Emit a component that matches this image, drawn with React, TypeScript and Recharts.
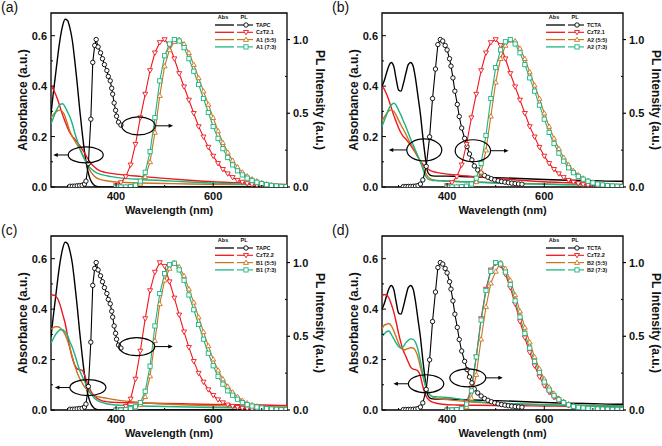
import React from "react";
import { ComposedChart, Line, XAxis, YAxis, ReferenceArea, ReferenceDot } from "recharts";

// wavelength grids (nm)
const ABS_WL = [266, 270, 275, 280, 285, 290, 295, 300, 305, 310, 315, 320, 325, 330, 335, 340, 345, 350, 355, 360, 365, 370, 380, 390, 400, 420, 450, 500, 550, 600, 650, 700, 750, 762];
const PL_WL = [400, 410, 420, 430, 440, 450, 460, 470, 480, 490, 500, 510, 520, 530, 540, 550, 560, 570, 580, 590, 600, 610, 620, 630, 640, 650, 660, 670, 680, 690, 700, 710, 720, 730, 740, 750, 760];

// absorbance (a.u.)
const TAPC_ABS = [0.29, 0.36, 0.44, 0.52, 0.59, 0.64, 0.665, 0.66, 0.63, 0.58, 0.5, 0.41, 0.31, 0.22, 0.14, 0.08, 0.04, 0.018, 0.007, 0.002, 0, 0, 0, 0, 0, 0, 0, 0, 0, 0, 0, 0, 0, 0];
const TCTA_ABS = [0.4, 0.418, 0.45, 0.48, 0.494, 0.48, 0.43, 0.385, 0.38, 0.41, 0.45, 0.485, 0.494, 0.48, 0.43, 0.36, 0.29, 0.2, 0.12, 0.06, 0.047, 0.044, 0.043, 0.043, 0.043, 0.042, 0.04, 0.037, 0.034, 0.03, 0.027, 0.025, 0.023, 0.023];
const CZT21_ABS = [0.4, 0.39, 0.37, 0.345, 0.315, 0.285, 0.26, 0.235, 0.215, 0.2, 0.19, 0.178, 0.165, 0.15, 0.135, 0.118, 0.103, 0.09, 0.08, 0.072, 0.066, 0.062, 0.057, 0.054, 0.051, 0.047, 0.042, 0.034, 0.027, 0.021, 0.017, 0.013, 0.01, 0.01];
const A1_55_ABS = [0.275, 0.285, 0.295, 0.303, 0.305, 0.298, 0.28, 0.25, 0.22, 0.2, 0.183, 0.167, 0.152, 0.133, 0.112, 0.09, 0.07, 0.055, 0.044, 0.036, 0.031, 0.028, 0.025, 0.022, 0.02, 0.018, 0.016, 0.014, 0.012, 0.011, 0.01, 0.009, 0.008, 0.008];
const A1_73_ABS = [0.25, 0.27, 0.295, 0.315, 0.328, 0.33, 0.318, 0.298, 0.278, 0.25, 0.214, 0.185, 0.155, 0.13, 0.11, 0.095, 0.08, 0.07, 0.062, 0.056, 0.052, 0.049, 0.045, 0.041, 0.038, 0.034, 0.03, 0.025, 0.02, 0.016, 0.012, 0.009, 0.007, 0.007];
const A2_55_ABS = [0.26, 0.275, 0.29, 0.302, 0.306, 0.3, 0.285, 0.265, 0.246, 0.228, 0.21, 0.19, 0.172, 0.155, 0.138, 0.12, 0.1, 0.08, 0.058, 0.042, 0.033, 0.029, 0.026, 0.025, 0.024, 0.022, 0.02, 0.017, 0.014, 0.012, 0.01, 0.009, 0.008, 0.008];
const A2_73_ABS = [0.24, 0.26, 0.285, 0.31, 0.325, 0.332, 0.325, 0.305, 0.285, 0.262, 0.24, 0.215, 0.19, 0.168, 0.145, 0.122, 0.1, 0.072, 0.046, 0.033, 0.028, 0.026, 0.025, 0.024, 0.023, 0.022, 0.02, 0.016, 0.013, 0.011, 0.009, 0.008, 0.007, 0.007];
const CZT22_ABS_C = [0.456, 0.456, 0.452, 0.44, 0.415, 0.38, 0.345, 0.295, 0.245, 0.205, 0.178, 0.163, 0.16, 0.158, 0.14, 0.112, 0.088, 0.068, 0.056, 0.048, 0.042, 0.037, 0.033, 0.031, 0.03, 0.029, 0.028, 0.026, 0.024, 0.022, 0.021, 0.02, 0.018, 0.018];
const CZT22_ABS_D = [0.45, 0.458, 0.456, 0.445, 0.42, 0.39, 0.35, 0.305, 0.266, 0.235, 0.213, 0.19, 0.17, 0.162, 0.16, 0.155, 0.134, 0.094, 0.062, 0.045, 0.036, 0.031, 0.026, 0.023, 0.021, 0.02, 0.019, 0.018, 0.017, 0.016, 0.015, 0.014, 0.013, 0.013];
const B1_55_ABS = [0.32, 0.326, 0.33, 0.33, 0.325, 0.315, 0.3, 0.275, 0.246, 0.21, 0.176, 0.148, 0.125, 0.108, 0.092, 0.08, 0.07, 0.063, 0.058, 0.054, 0.052, 0.05, 0.047, 0.043, 0.04, 0.035, 0.03, 0.024, 0.02, 0.017, 0.015, 0.013, 0.012, 0.012];
const B1_73_ABS = [0.265, 0.28, 0.298, 0.31, 0.318, 0.318, 0.31, 0.295, 0.27, 0.248, 0.22, 0.188, 0.158, 0.135, 0.115, 0.092, 0.075, 0.06, 0.048, 0.04, 0.034, 0.03, 0.025, 0.022, 0.02, 0.018, 0.016, 0.014, 0.012, 0.01, 0.009, 0.008, 0.007, 0.007];
const B2_55_ABS = [0.32, 0.335, 0.34, 0.343, 0.335, 0.315, 0.29, 0.265, 0.246, 0.238, 0.24, 0.244, 0.247, 0.246, 0.235, 0.21, 0.17, 0.134, 0.1, 0.075, 0.06, 0.052, 0.046, 0.043, 0.041, 0.037, 0.032, 0.027, 0.024, 0.021, 0.019, 0.018, 0.017, 0.017];
const B2_73_ABS = [0.29, 0.3, 0.31, 0.313, 0.3, 0.283, 0.266, 0.252, 0.246, 0.252, 0.266, 0.276, 0.282, 0.28, 0.268, 0.24, 0.195, 0.145, 0.1, 0.074, 0.06, 0.054, 0.052, 0.051, 0.05, 0.045, 0.035, 0.028, 0.024, 0.021, 0.019, 0.017, 0.016, 0.016];

// donor PL (normalised)
const TAPC_PL_WL = [305, 310, 315, 320, 325, 330, 335, 338, 343, 348, 352, 356, 359, 363, 368, 372, 376, 381, 384, 388, 391, 393, 396, 399, 401, 405, 410];
const TAPC_PL = [0.005, 0.005, 0.006, 0.008, 0.01, 0.012, 0.02, 0.04, 0.16, 0.46, 0.845, 0.96, 1.0, 0.95, 0.91, 0.87, 0.83, 0.79, 0.75, 0.72, 0.67, 0.63, 0.57, 0.52, 0.48, 0.44, 0.42];
const TCTA_PL_WL = [310, 315, 320, 325, 330, 335, 340, 345, 350, 357, 364, 370, 376, 381, 386, 391, 396, 400, 405, 408, 412, 416, 421, 425, 430, 436, 441, 446, 451, 456, 463, 470, 477, 484, 491, 498, 505, 512, 519, 526, 533, 540, 547, 554];
const TCTA_PL = [0.003, 0.003, 0.004, 0.004, 0.005, 0.006, 0.01, 0.02, 0.048, 0.14, 0.34, 0.6, 0.8, 0.966, 1.0, 0.99, 0.96, 0.93, 0.87, 0.82, 0.74, 0.65, 0.56, 0.478, 0.4, 0.33, 0.274, 0.224, 0.184, 0.143, 0.116, 0.095, 0.078, 0.066, 0.056, 0.048, 0.042, 0.037, 0.033, 0.029, 0.026, 0.023, 0.021, 0.019];

// acceptor / blend PL (normalised), on PL_WL
const CZT21_PL = [0.01, 0.03, 0.07, 0.15, 0.29, 0.47, 0.63, 0.79, 0.91, 0.98, 1.0, 0.96, 0.87, 0.77, 0.68, 0.59, 0.5, 0.41, 0.34, 0.27, 0.21, 0.16, 0.12, 0.09, 0.065, 0.046, 0.033, 0.024, 0.017, 0.012, 0.008, 0.005, 0.003, 0.002, 0.001, 0.001, 0];
const A1_55_PL = [0, 0, 0, 0.002, 0.008, 0.025, 0.07, 0.17, 0.37, 0.62, 0.82, 0.93, 0.985, 1.0, 0.97, 0.91, 0.83, 0.74, 0.65, 0.56, 0.47, 0.38, 0.3, 0.235, 0.18, 0.135, 0.1, 0.074, 0.054, 0.04, 0.029, 0.02, 0.014, 0.009, 0.006, 0.003, 0.002];
const A1_73_PL = [0, 0, 0, 0.003, 0.012, 0.04, 0.1, 0.24, 0.47, 0.72, 0.89, 0.97, 1.0, 0.99, 0.945, 0.87, 0.785, 0.695, 0.6, 0.505, 0.41, 0.33, 0.26, 0.2, 0.15, 0.11, 0.082, 0.06, 0.044, 0.032, 0.023, 0.016, 0.011, 0.007, 0.004, 0.002, 0.001];
const A2_55_PL = [0, 0, 0, 0.001, 0.004, 0.012, 0.035, 0.1, 0.25, 0.48, 0.71, 0.87, 0.96, 0.995, 0.99, 0.94, 0.87, 0.78, 0.69, 0.6, 0.5, 0.41, 0.33, 0.26, 0.2, 0.15, 0.11, 0.082, 0.06, 0.044, 0.032, 0.023, 0.016, 0.011, 0.008, 0.005, 0.004];
const A2_73_PL = [0, 0, 0, 0.002, 0.006, 0.02, 0.06, 0.16, 0.35, 0.6, 0.81, 0.93, 0.985, 1.0, 0.97, 0.91, 0.83, 0.74, 0.65, 0.555, 0.46, 0.37, 0.295, 0.23, 0.175, 0.13, 0.097, 0.072, 0.053, 0.039, 0.028, 0.02, 0.014, 0.01, 0.007, 0.005, 0.003];
const CZT22_PL_C = [0, 0.005, 0.025, 0.075, 0.21, 0.4, 0.62, 0.81, 0.935, 1.0, 0.975, 0.87, 0.76, 0.645, 0.53, 0.425, 0.33, 0.25, 0.19, 0.138, 0.1, 0.07, 0.05, 0.035, 0.026, 0.018, 0.013, 0.009, 0.006, 0.004, 0.003, 0.002, 0.001, 0.001, 0, 0, 0];
const B1_55_PL = [0, 0, 0.001, 0.005, 0.015, 0.035, 0.09, 0.23, 0.47, 0.72, 0.88, 0.96, 1.0, 0.97, 0.91, 0.82, 0.73, 0.63, 0.53, 0.435, 0.345, 0.27, 0.21, 0.16, 0.12, 0.09, 0.065, 0.047, 0.035, 0.026, 0.019, 0.013, 0.009, 0.006, 0.004, 0.003, 0.002];
const B1_73_PL = [0, 0, 0.002, 0.008, 0.022, 0.05, 0.127, 0.297, 0.57, 0.79, 0.925, 0.985, 0.995, 0.95, 0.88, 0.78, 0.68, 0.58, 0.48, 0.385, 0.3, 0.228, 0.175, 0.13, 0.1, 0.073, 0.05, 0.036, 0.027, 0.02, 0.014, 0.009, 0.007, 0.005, 0.003, 0.002, 0.001];
const CZT22_PL_D = [0, 0.001, 0.005, 0.015, 0.05, 0.15, 0.36, 0.62, 0.82, 0.95, 0.995, 0.98, 0.92, 0.83, 0.72, 0.6, 0.49, 0.39, 0.3, 0.225, 0.165, 0.12, 0.085, 0.06, 0.042, 0.03, 0.022, 0.016, 0.012, 0.009, 0.007, 0.005, 0.004, 0.003, 0.002, 0.002, 0.001];
const B2_55_PL = [0, 0, 0.001, 0.005, 0.02, 0.08, 0.24, 0.48, 0.7, 0.86, 0.94, 1.0, 0.96, 0.88, 0.78, 0.67, 0.56, 0.46, 0.36, 0.28, 0.21, 0.155, 0.112, 0.08, 0.058, 0.042, 0.03, 0.022, 0.016, 0.012, 0.009, 0.007, 0.005, 0.004, 0.003, 0.003, 0.002];
const B2_73_PL = [0, 0, 0.002, 0.008, 0.04, 0.13, 0.36, 0.61, 0.81, 0.94, 1.0, 0.99, 0.935, 0.85, 0.74, 0.63, 0.52, 0.42, 0.33, 0.255, 0.19, 0.135, 0.097, 0.07, 0.05, 0.035, 0.024, 0.018, 0.014, 0.011, 0.009, 0.007, 0.006, 0.005, 0.004, 0.004, 0.003];

const X_TICKS = [300, 400, 500, 600, 700];
const ABS_TICKS = [0, 0.1, 0.2, 0.3, 0.4, 0.5, 0.6];
const PL_TICKS = [0, 0.25, 0.5, 0.75, 1.0];

const COLORS = ["#000000", "#f0161c", "#c8741e", "#1cb482"];
const MARKERS = ["circle", "down", "up", "square"];
const FONT = "Arial, 'Liberation Sans', Helvetica, sans-serif";
const X_MIN = 266;
const ABS_MAX = 0.69;
const PL_MAX = 1.18;

const pts = (xs: number[], ys: number[]) => xs.map((x, i) => ({ x, y: ys[i] }));

const PANELS = [
  {
    letter: "(a)", left: 0, top: 0, xMax: 752, rightW: 44,
    names: ["TAPC", "CzT2.1", "A1 (5:5)", "A1 (7:3)"],
    abs: [TAPC_ABS, CZT21_ABS, A1_55_ABS, A1_73_ABS],
    donorPl: [TAPC_PL_WL, TAPC_PL],
    pl: [CZT21_PL, A1_55_PL, A1_73_PL],
    loops: [
      { axis: "abs", x: 337.5, y: 0.127, rx: 17.5, ry: 8, dir: -1, len: 15 },
      { axis: "pl", x: 446, y: 0.415, rx: 16.7, ry: 9, dir: 1, len: 18 },
    ],
  },
  {
    letter: "(b)", left: 331, top: 0, xMax: 762, rightW: 39,
    names: ["TCTA", "CzT2.1", "A2 (5:5)", "A2 (7:3)"],
    abs: [TCTA_ABS, CZT21_ABS, A2_55_ABS, A2_73_ABS],
    donorPl: [TCTA_PL_WL, TCTA_PL],
    pl: [CZT21_PL, A2_55_PL, A2_73_PL],
    loops: [
      { axis: "abs", x: 353, y: 0.147, rx: 17.5, ry: 11, dir: -1, len: 18 },
      { axis: "pl", x: 453, y: 0.246, rx: 17.7, ry: 11, dir: 1, len: 18 },
    ],
  },
  {
    letter: "(c)", left: 0, top: 223, xMax: 752, rightW: 44,
    names: ["TAPC", "CzT2.2", "B1 (5:5)", "B1 (7:3)"],
    abs: [TAPC_ABS, CZT22_ABS_C, B1_55_ABS, B1_73_ABS],
    donorPl: [TAPC_PL_WL, TAPC_PL],
    pl: [CZT22_PL_C, B1_55_PL, B1_73_PL],
    loops: [
      { axis: "abs", x: 342, y: 0.089, rx: 18, ry: 8, dir: -1, len: 15 },
      { axis: "pl", x: 442.6, y: 0.43, rx: 18, ry: 9, dir: 1, len: 18 },
    ],
  },
  {
    letter: "(d)", left: 331, top: 223, xMax: 762, rightW: 39,
    names: ["TCTA", "CzT2.2", "B2 (5:5)", "B2 (7:3)"],
    abs: [TCTA_ABS, CZT22_ABS_D, B2_55_ABS, B2_73_ABS],
    donorPl: [TCTA_PL_WL, TCTA_PL],
    pl: [CZT22_PL_D, B2_55_PL, B2_73_PL],
    loops: [
      { axis: "abs", x: 356.7, y: 0.104, rx: 17.7, ry: 9, dir: -1, len: 15 },
      { axis: "pl", x: 442.6, y: 0.218, rx: 18, ry: 9, dir: 1, len: 17 },
    ],
  },
];

function Marker({ cx, cy, kind, color }: any) {
  if (cx == null || cy == null || isNaN(cx) || isNaN(cy)) return null;
  const common = { fill: "#ffffff", stroke: color, strokeWidth: 0.9 };
  if (kind === "circle") return <circle cx={cx} cy={cy} r={2.2} {...common} />;
  if (kind === "down")
    return <polygon points={`${cx - 2.5},${cy - 1.8} ${cx + 2.5},${cy - 1.8} ${cx},${cy + 2.5}`} {...common} />;
  if (kind === "up")
    return <polygon points={`${cx - 2.5},${cy + 1.8} ${cx + 2.5},${cy + 1.8} ${cx},${cy - 2.5}`} {...common} />;
  return <rect x={cx - 2.1} y={cy - 2.1} width={4.2} height={4.2} {...common} />;
}

function Loop({ cx, cy, rx, ry, dir, len }: any) {
  if (cx == null || cy == null) return null;
  const x0 = dir < 0 ? cx - rx : cx + rx;
  const x1 = x0 + dir * len;
  return (
    <g>
      <ellipse cx={cx} cy={cy} rx={rx} ry={ry} fill="none" stroke="#000" strokeWidth={1.2} />
      <line x1={x0} y1={cy} x2={x1 - dir * 3} y2={cy} stroke="#000" strokeWidth={1} />
      <polygon points={`${x1},${cy} ${x1 - dir * 4.5},${cy - 2} ${x1 - dir * 4.5},${cy + 2}`} fill="#000" />
    </g>
  );
}

const tickText = { fontFamily: FONT, fontWeight: 700, fontSize: 11, fill: "#111" };

function XTick({ x, y, payload }: any) {
  const major = payload.value === 400 || payload.value === 600;
  return (
    <g>
      <line x1={x} x2={x} y1={y} y2={y - (major ? 4 : 2)} stroke="#000" strokeWidth={1} />
      {major && (
        <text x={x} y={y + 13} textAnchor="middle" {...tickText}>
          {payload.value}
        </text>
      )}
    </g>
  );
}

function AbsTick({ x, y, payload }: any) {
  const v = payload.value;
  const major = Math.abs(v * 10) % 2 < 0.01;
  return (
    <g>
      <line x1={x} x2={x + (major ? 4 : 2)} y1={y} y2={y} stroke="#000" strokeWidth={1} />
      {major && (
        <text x={x - 4} y={y} dy="0.36em" textAnchor="end" {...tickText}>
          {v.toFixed(1)}
        </text>
      )}
    </g>
  );
}

function PlTick({ x, y, payload }: any) {
  const v = payload.value;
  const major = v === 0 || v === 0.5 || v === 1;
  return (
    <g>
      {major ? (
        <line x1={x} x2={x + 3} y1={y} y2={y} stroke="#000" strokeWidth={1.2} />
      ) : (
        <line x1={x} x2={x - 2} y1={y} y2={y} stroke="#000" strokeWidth={1} />
      )}
      {major && (
        <text x={x + 6} y={y} dy="0.36em" textAnchor="start" {...tickText}>
          {v.toFixed(1)}
        </text>
      )}
    </g>
  );
}

function Panel({ p }: any) {
  const plotLeft = 51;
  const plotRight = 331 - p.rightW;
  const plotTop = 13;
  const plotBottom = 187;
  const legendRows = [25, 32.3, 39.6, 46.9];
  return (
    <div style={{ position: "absolute", left: p.left, top: p.top, width: 331, height: 223 }}>
      <ComposedChart width={331} height={223} margin={{ top: plotTop, right: 0, bottom: 0, left: 0 }}>
        <XAxis
          type="number"
          dataKey="x"
          domain={[X_MIN, p.xMax]}
          allowDataOverflow
          ticks={X_TICKS}
          interval={0}
          tickSize={0}
          tickMargin={0}
          axisLine={false}
          tickLine={false}
          height={36}
          tick={(t: any) => <XTick {...t} />}
        />
        <YAxis
          yAxisId="abs"
          type="number"
          domain={[0, ABS_MAX]}
          allowDataOverflow
          ticks={ABS_TICKS}
          interval={0}
          tickSize={0}
          tickMargin={0}
          axisLine={false}
          tickLine={false}
          width={plotLeft}
          tick={(t: any) => <AbsTick {...t} />}
        />
        <YAxis
          yAxisId="pl"
          orientation="right"
          type="number"
          domain={[0, PL_MAX]}
          allowDataOverflow
          ticks={PL_TICKS}
          interval={0}
          tickSize={0}
          tickMargin={0}
          axisLine={false}
          tickLine={false}
          width={p.rightW}
          tick={(t: any) => <PlTick {...t} />}
        />
        {p.abs.map((ys: number[], i: number) => (
          <Line
            key={`abs-${i}`}
            yAxisId="abs"
            data={pts(ABS_WL, ys)}
            dataKey="y"
            type="monotone"
            stroke={COLORS[i]}
            strokeWidth={1.4}
            dot={false}
            activeDot={false}
            isAnimationActive={false}
          />
        ))}
        <Line
          yAxisId="pl"
          data={pts(p.donorPl[0], p.donorPl[1])}
          dataKey="y"
          type="linear"
          stroke={COLORS[0]}
          strokeWidth={1.1}
          dot={(d: any) => <Marker key={`dm-${d.index}`} cx={d.cx} cy={d.cy} kind={MARKERS[0]} color={COLORS[0]} />}
          activeDot={false}
          isAnimationActive={false}
        />
        {p.pl.map((ys: number[], i: number) => (
          <Line
            key={`pl-${i}`}
            yAxisId="pl"
            data={pts(PL_WL, ys)}
            dataKey="y"
            type="linear"
            stroke={COLORS[i + 1]}
            strokeWidth={1.1}
            dot={(d: any) => (
              <Marker key={`m${i}-${d.index}`} cx={d.cx} cy={d.cy} kind={MARKERS[i + 1]} color={COLORS[i + 1]} />
            )}
            activeDot={false}
            isAnimationActive={false}
          />
        ))}
        <ReferenceArea
          yAxisId="abs"
          x1={X_MIN}
          x2={p.xMax}
          y1={0}
          y2={ABS_MAX}
          fill="none"
          fillOpacity={0}
          stroke="#000"
          strokeWidth={1.3}
          ifOverflow="visible"
        />
        {p.loops.map((l: any, i: number) => (
          <ReferenceDot
            key={`loop-${i}`}
            yAxisId={l.axis}
            x={l.x}
            y={l.y}
            ifOverflow="visible"
            shape={(s: any) => <Loop cx={s.cx} cy={s.cy} rx={l.rx} ry={l.ry} dir={l.dir} len={l.len} />}
          />
        ))}
      </ComposedChart>
      <svg
        width={331}
        height={223}
        style={{ position: "absolute", left: 0, top: 0, pointerEvents: "none" }}
      >
        <text x={1} y={12} fontFamily={FONT} fontSize={14} fill="#111">
          {p.letter}
        </text>
        <text
          transform={`translate(23, ${(plotTop + plotBottom) / 2}) rotate(-90)`}
          textAnchor="middle"
          dy="0.36em"
          fontFamily={FONT}
          fontWeight={700}
          fontSize={12}
          fill="#111"
        >
          Absorbance (a.u.)
        </text>
        <text
          transform={`translate(${plotRight + 33}, ${(plotTop + plotBottom) / 2}) rotate(90)`}
          textAnchor="middle"
          dy="0.36em"
          fontFamily={FONT}
          fontWeight={700}
          fontSize={12}
          fill="#111"
        >
          PL Intensity (a.u.)
        </text>
        <text
          x={(plotLeft + plotRight) / 2}
          y={214}
          textAnchor="middle"
          fontFamily={FONT}
          fontWeight={700}
          fontSize={11}
          fill="#111"
        >
          Wavelength (nm)
        </text>
        <g fontFamily={FONT} fontWeight={700} fontSize={5.5} fill="#111">
          <text x={223} y={18.5} textAnchor="middle">Abs</text>
          <text x={244} y={18.5} textAnchor="middle">PL</text>
          {p.names.map((n: string, i: number) => (
            <g key={n}>
              <line x1={215} x2={234} y1={legendRows[i]} y2={legendRows[i]} stroke={COLORS[i]} strokeWidth={1.3} />
              <line x1={237} x2={253} y1={legendRows[i]} y2={legendRows[i]} stroke={COLORS[i]} strokeWidth={1.1} />
              <Marker cx={246} cy={legendRows[i]} kind={MARKERS[i]} color={COLORS[i]} />
              <text x={256} y={legendRows[i] + 2}>{n}</text>
            </g>
          ))}
        </g>
      </svg>
    </div>
  );
}

export default function App() {
  return (
    <div style={{ position: "absolute", left: 0, top: 0, width: 662, height: 446, background: "#fff" }}>
      {PANELS.map((p) => (
        <Panel key={p.letter} p={p} />
      ))}
    </div>
  );
}
